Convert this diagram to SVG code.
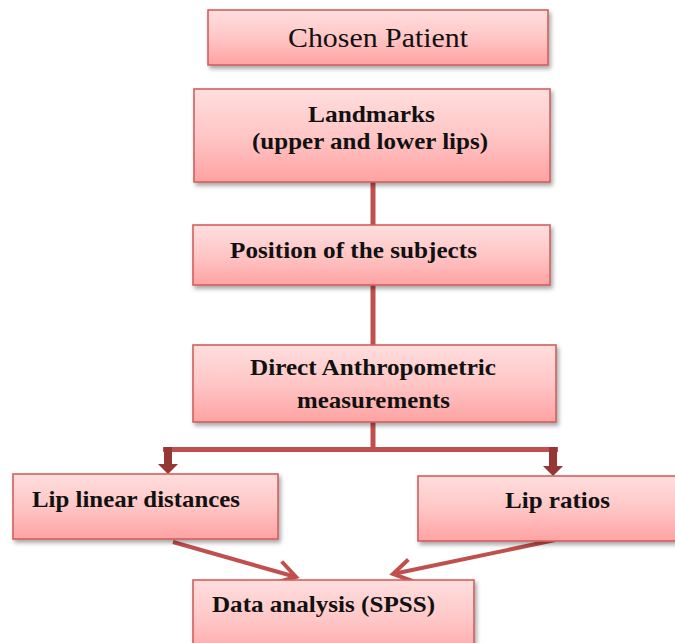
<svg xmlns="http://www.w3.org/2000/svg" width="675" height="643" viewBox="0 0 675 643">
  <defs>
    <linearGradient id="g" x1="0" y1="0" x2="0" y2="1">
      <stop offset="0" stop-color="#FFDEDE"/>
      <stop offset="0.5" stop-color="#FFC6C6"/>
      <stop offset="1" stop-color="#FFA2A2"/>
    </linearGradient>
    <filter id="sh" x="-10%" y="-20%" width="125%" height="150%">
      <feDropShadow dx="2" dy="3" stdDeviation="2" flood-color="#000" flood-opacity="0.35"/>
    </filter>
    <marker id="open" markerUnits="userSpaceOnUse" markerWidth="28" markerHeight="28" viewBox="0 0 28 28" refX="24" refY="14" orient="auto">
      <path d="M6,3 L24,14 L6,25" fill="none" stroke="#C0504D" stroke-width="4" stroke-linejoin="miter"/>
    </marker>
  </defs>
  <style>
    .box { fill: url(#g); stroke: #D0605E; stroke-width: 1.6; filter: url(#sh); }
    text { font-family: 'Liberation Serif', 'Times New Roman', Times, serif; fill: #111; }
    .t { font-size: 23px; font-weight: bold; }
    .tr { font-size: 28px; font-weight: normal; }
    .line { stroke: #C0504D; stroke-width: 5; fill: none; }
    .dark { fill: #953735; }
    .diag { stroke: #C0504D; stroke-width: 4; fill: none; }
  </style>

  <g id="connectors">
    <line class="line" x1="373" y1="182" x2="373" y2="225"/>
    <line class="line" x1="373" y1="285" x2="373" y2="345"/>
    <line class="line" x1="373" y1="422" x2="373" y2="450"/>
    <line class="line" x1="163" y1="449.5" x2="558" y2="449.5"/>
    <path class="dark" d="M164,447 H172 V464 H178 L168,474 L158,464 H164 Z"/>
    <path class="dark" d="M549,447 H557 V466 H563 L553,476 L543,466 H549 Z"/>
    <line class="diag" x1="173" y1="542" x2="296" y2="577" marker-end="url(#open)"/>
    <line class="diag" x1="555" y1="540" x2="393" y2="574" marker-end="url(#open)"/>
  </g>

  <g id="chosen-patient">
    <rect class="box" x="208" y="10" width="340" height="55"/>
    <text class="tr" x="288" y="47" textLength="180" lengthAdjust="spacingAndGlyphs">Chosen Patient</text>
  </g>

  <g id="landmarks">
    <rect class="box" x="194" y="89" width="356" height="93"/>
    <text class="t" x="308" y="122" textLength="127" lengthAdjust="spacingAndGlyphs">Landmarks</text>
    <text class="t" x="252" y="149" textLength="236" lengthAdjust="spacingAndGlyphs">(upper and lower lips)</text>
  </g>

  <g id="position">
    <rect class="box" x="193" y="225" width="357" height="60"/>
    <text class="t" x="230" y="258" textLength="247" lengthAdjust="spacingAndGlyphs">Position of the subjects</text>
  </g>

  <g id="direct">
    <rect class="box" x="193" y="345" width="363" height="77"/>
    <text class="t" x="250" y="375" textLength="246" lengthAdjust="spacingAndGlyphs">Direct Anthropometric</text>
    <text class="t" x="297" y="408" textLength="153" lengthAdjust="spacingAndGlyphs">measurements</text>
  </g>

  <g id="lip-linear">
    <rect class="box" x="13" y="474" width="265" height="65"/>
    <text class="t" x="32" y="507" textLength="208" lengthAdjust="spacingAndGlyphs">Lip linear distances</text>
  </g>

  <g id="lip-ratios">
    <rect class="box" x="418" y="476" width="270" height="65"/>
    <text class="t" x="505" y="508" textLength="105" lengthAdjust="spacingAndGlyphs">Lip ratios</text>
  </g>

  <g id="data-analysis">
    <rect class="box" x="193" y="580" width="281" height="80"/>
    <text class="t" x="212" y="612" textLength="223" lengthAdjust="spacingAndGlyphs">Data analysis (SPSS)</text>
  </g>
</svg>
